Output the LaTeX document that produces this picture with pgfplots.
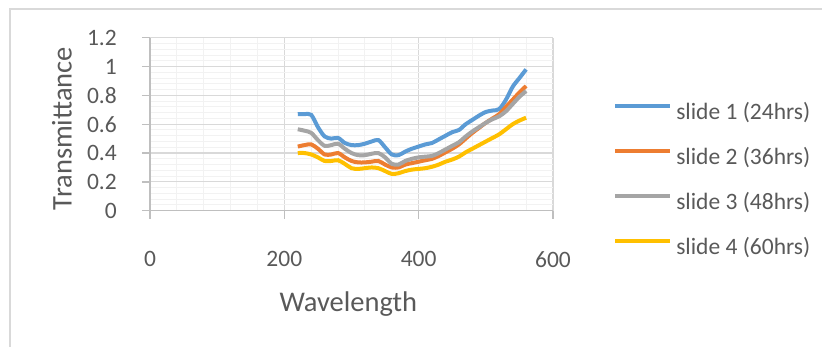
\documentclass[border=0pt]{standalone}
\usepackage{pgfplots}
\pgfplotsset{compat=1.18}
\usepackage{pgfplotstable}
\usepackage{fontspec}
\setmainfont{Carlito}
\definecolor{sA}{HTML}{5B9BD5}
\definecolor{sB}{HTML}{ED7D31}
\definecolor{sC}{HTML}{A5A5A5}
\definecolor{sD}{HTML}{FFC000}
\definecolor{txt}{HTML}{595959}
\definecolor{maj}{HTML}{D9D9D9}
\definecolor{minr}{HTML}{F2F2F2}
\definecolor{axc}{HTML}{BFBFBF}

\pgfplotstableread{
x   a     b     c     d
220 0.670 0.445 0.565 0.400
230 0.670 0.455 0.555 0.400
240 0.665 0.460 0.540 0.390
250 0.580 0.430 0.490 0.370
260 0.515 0.390 0.450 0.345
270 0.500 0.390 0.455 0.345
280 0.505 0.400 0.465 0.350
290 0.470 0.370 0.430 0.325
300 0.455 0.345 0.400 0.295
310 0.455 0.335 0.385 0.290
320 0.465 0.335 0.385 0.295
330 0.480 0.340 0.395 0.300
340 0.490 0.345 0.400 0.295
350 0.440 0.320 0.370 0.275
360 0.390 0.300 0.325 0.255
370 0.385 0.300 0.320 0.260
380 0.410 0.320 0.345 0.275
390 0.430 0.330 0.360 0.285
400 0.445 0.340 0.370 0.290
410 0.460 0.350 0.375 0.295
420 0.470 0.360 0.380 0.305
430 0.495 0.380 0.400 0.320
440 0.520 0.405 0.425 0.340
450 0.545 0.430 0.450 0.355
460 0.560 0.460 0.475 0.375
470 0.600 0.500 0.515 0.405
480 0.630 0.540 0.550 0.430
490 0.660 0.575 0.580 0.455
500 0.685 0.610 0.610 0.480
510 0.695 0.640 0.635 0.505
520 0.705 0.670 0.655 0.530
530 0.770 0.720 0.690 0.565
540 0.860 0.770 0.740 0.600
550 0.920 0.820 0.790 0.625
560 0.980 0.865 0.830 0.645
}\data

\begin{document}
\begin{tikzpicture}
\path[use as bounding box] (-150pt,-135.3pt) rectangle (672pt,210.7pt);
\draw[maj, line width=2pt] (-140pt,-136pt) -- (-140pt,201.7pt) -- (673pt,201.7pt);
\begin{axis}[
  scale only axis, width=403pt, height=173pt,
  xmin=0, xmax=600, ymin=0, ymax=1.2,
  xtick={0,200,400,600}, xticklabels={0,200,400,600},
  ytick={0,0.2,0.4,0.6,0.8,1,1.2},
  yticklabels={0,0.2,0.4,0.6,0.8,1,1.2},
  minor x tick num=4, minor y tick num=4,
  grid=both,
  major grid style={maj, line width=1.2pt},
  minor grid style={minr, line width=1pt},
  axis lines=left,
  axis line style={-, axc, line width=1.3pt},
  tick align=outside, major tick length=8pt, minor tick length=0pt,
  tick style={axc, line width=1.3pt},
  ticklabel style={font=\fontsize{23.5}{28}\selectfont, text=txt, inner sep=0pt},
  xticklabel style={anchor=north, yshift=-32.3pt},
  yticklabel style={anchor=east, xshift=-25pt},
  xlabel={Wavelength}, ylabel={Transmittance},
  label style={font=\fontsize{28.5}{34}\selectfont, text=txt, inner sep=0pt},
  xlabel style={at={(axis description cs:0.492,-0.542)}, anchor=center},
  ylabel style={at={(axis description cs:-0.2184,0.475)}, anchor=center},
  legend style={at={(axis description cs:1.1496,0.6277)}, anchor=north west,
    draw=none, fill=none, inner sep=0pt, outer sep=0pt,
    row sep=22pt, column sep=4pt,
    nodes={inner sep=0pt, text height=17pt, text depth=6pt,
      font=\fontsize{23.5}{28}\selectfont, text=txt},
    cells={anchor=west}},
  legend image code/.code={\draw[#1] (0pt,7.4pt) -- (55pt,7.4pt);},
]
\addplot[sA, line width=4pt, smooth, tension=0.5] table[x=x,y=a]{\data};
\addlegendentry{slide 1 (24hrs)}
\addplot[sB, line width=4pt, smooth, tension=0.5] table[x=x,y=b]{\data};
\addlegendentry{slide 2 (36hrs)}
\addplot[sC, line width=4pt, smooth, tension=0.5] table[x=x,y=c]{\data};
\addlegendentry{slide 3 (48hrs)}
\addplot[sD, line width=4pt, smooth, tension=0.5] table[x=x,y=d]{\data};
\addlegendentry{slide 4 (60hrs)}
\end{axis}
\end{tikzpicture}
\end{document}
